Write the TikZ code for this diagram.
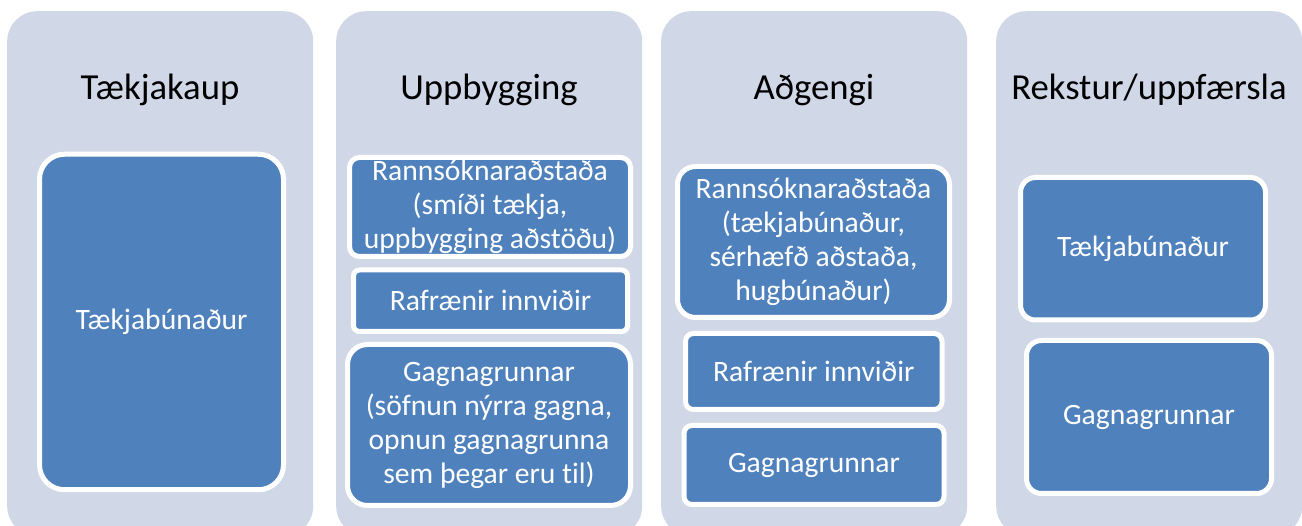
\documentclass[tikz,border=0pt]{standalone}
\usepackage{fontspec}
\setmainfont{Carlito}[Ligatures={NoCommon}]
\definecolor{panelc}{RGB}{208,216,232}
\definecolor{boxc}{RGB}{79,129,189}
\begin{document}
\begin{tikzpicture}[x=1pt,y=-1pt,
  panel/.style={fill=panelc, rounded corners=30pt, minimum width=306pt, minimum height=525pt, anchor=north west, inner sep=0pt},
  title/.style={anchor=base, text=black, font=\fontsize{36.7}{42}\selectfont, inner sep=0pt},
  item/.style={fill=boxc, draw=white, line width=5pt, text=white, font=\fontsize{29.6}{34}\selectfont, align=center, inner sep=0pt}]
\useasboundingbox (0,0) rectangle (1302,526);
% panels
\node[panel] (p1) at (7,11) {};
\node[panel] (p2) at (336,11) {};
\node[panel] (p3) at (661,11) {};
\node[panel] (p4) at (996,11) {};
% titles
\node[title] (t1) at (160,100) {Tækjakaup};
\node[title] (t2) at (489,100) {Uppbygging};
\node[title] (t3) at (814,100) {Aðgengi};
\node[title] (t4) at (1149,100) {Rekstur/uppfærsla};
% panel 1
\node[item, rounded corners=25pt, minimum width=244pt, minimum height=335.5pt] (a1) at (161.5,322) {\raisebox{-2pt}{Tækjabúnaður}};
% panel 2
\node[item, rounded corners=10pt, minimum width=281pt, minimum height=99pt] (b1) at (490,207) {Rannsóknaraðstaða\\(smíði tækja,\\uppbygging aðstöðu)};
\node[item, rounded corners=6pt, minimum width=274pt, minimum height=61.5pt] (b2) at (490.5,300.75) {Rafrænir innviðir};
\node[item, rounded corners=20pt, minimum width=283pt, minimum height=161pt] (b3) at (489,425) {Gagnagrunnar\\(söfnun nýrra gagna,\\opnun gagnagrunna\\sem þegar eru til)};
% panel 3
\node[item, rounded corners=18pt, minimum width=272pt, minimum height=151pt] (c1) at (813.5,242) {Rannsóknaraðstaða\\(tækjabúnaður,\\sérhæfð aðstaða,\\hugbúnaður)};
\node[item, rounded corners=8pt, minimum width=256.5pt, minimum height=76pt] (c2) at (813.75,371.5) {Rafrænir innviðir};
\node[item, rounded corners=8pt, minimum width=260pt, minimum height=79pt] (c3) at (814,465) {Gagnagrunnar};
% panel 4
\node[item, rounded corners=15pt, minimum width=245pt, minimum height=142.5pt] (d1) at (1143,248.75) {\raisebox{-2pt}{Tækjabúnaður}};
\node[item, rounded corners=15pt, minimum width=245pt, minimum height=153pt] (d2) at (1149,417) {Gagnagrunnar};
\end{tikzpicture}
\end{document}
